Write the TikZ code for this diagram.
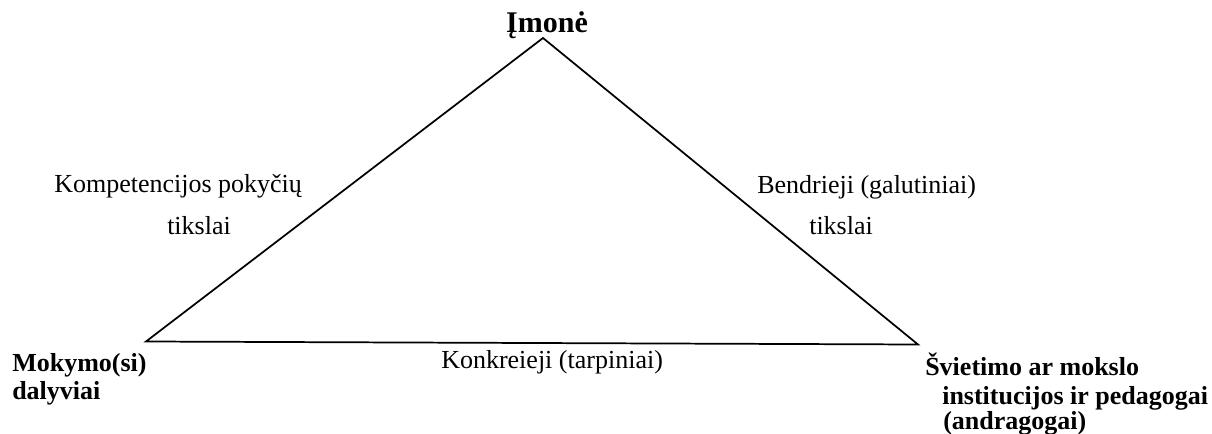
\documentclass[tikz,border=0pt]{standalone}
\usepackage{fontspec}
\setmainfont{Liberation Serif}
\begin{document}
\begin{tikzpicture}[x=0.75pt,y=-0.75pt,
  lbl/.style={inner sep=0pt,anchor=base west,font=\fontsize{19.5pt}{23pt}\selectfont},
  blbl/.style={lbl,font=\fontsize{19.5pt}{23pt}\selectfont\bfseries},
  side/.style={line width=1.3pt,line join=miter}]
\useasboundingbox (0,0) rectangle (1212,434);
\coordinate (A) at (543,38);
\coordinate (L) at (146,341.5);
\coordinate (R) at (918,344.5);
\draw[side] (L) -- (A) -- (R) -- cycle;
\node[blbl,anchor=base,font=\fontsize{22.5pt}{26pt}\selectfont\bfseries] (imone) at (547,33) {Įmonė};
\node[lbl] (komp) at (54,193) {Kompetencijos pokyčių};
\node[lbl] (tiksl1) at (167,235) {tikslai};
\node[lbl] (bendr) at (757,194) {Bendrieji (galutiniai)};
\node[lbl] (tiksl2) at (809,235) {tikslai};
\node[lbl] (konkr) at (441,368) {Konkreieji (tarpiniai)};
\node[blbl] (mok1) at (12,371) {Mokymo(si)};
\node[blbl] (mok2) at (12,399) {dalyviai};
\node[blbl] (sv1) at (925,375) {Švietimo ar mokslo};
\node[blbl] (sv2) at (942,404) {institucijos ir pedagogai};
\node[blbl] (sv3) at (943,429) {(andragogai)};
\end{tikzpicture}
\end{document}
